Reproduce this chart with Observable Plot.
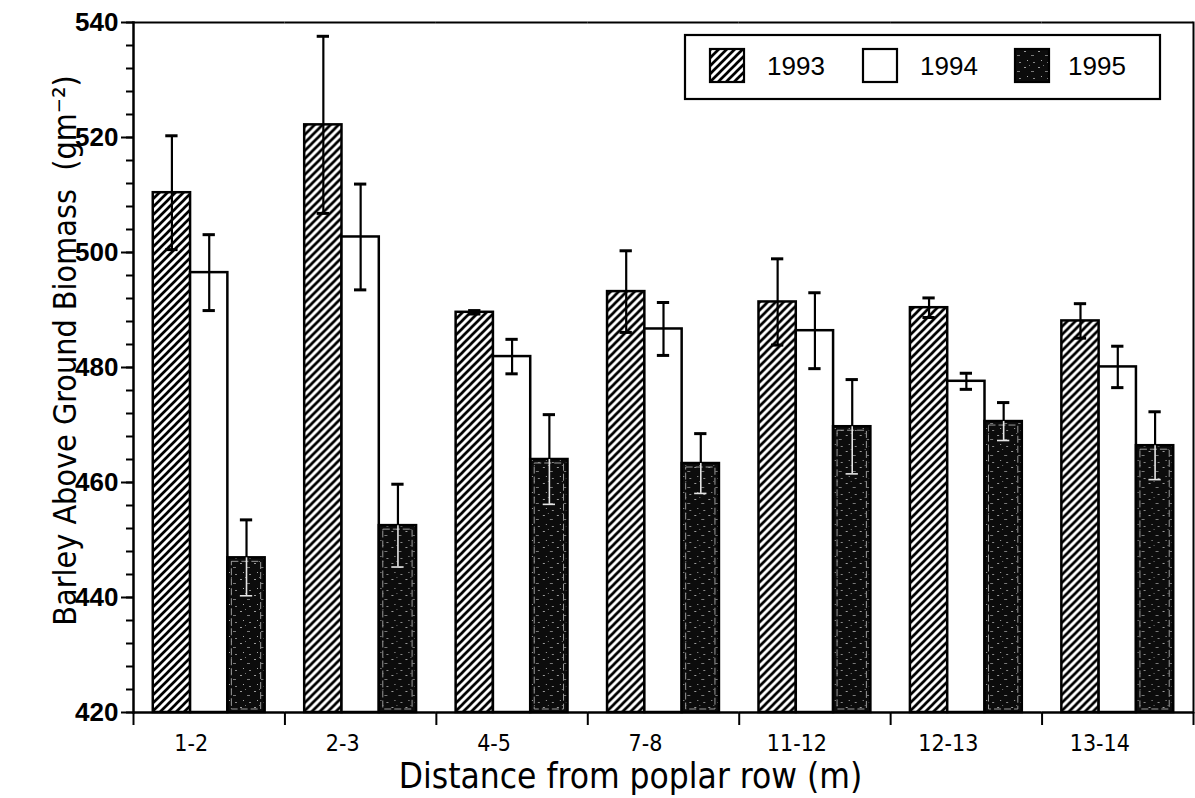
<!DOCTYPE html>
<html>
<head>
<meta charset="utf-8">
<script src="https://cdn.jsdelivr.net/npm/d3@7"></script>
<script src="https://cdn.jsdelivr.net/npm/@observablehq/plot@0.6"></script>
<style>
  html, body { margin: 0; padding: 0; background: #fff; }
  #wrap { position: relative; width: 1195px; height: 798px; }
  #legend { position: absolute; left: 0; top: 0; }
</style>
</head>
<body>
<div id="wrap"></div>
<script>
// ---- data ----
const groups = ["1-2", "2-3", "4-5", "7-8", "11-12", "12-13", "13-14"];
const years = ["1993", "1994", "1995"];
const biomass1993 = [510.4, 522.2, 489.6, 493.2, 491.4, 490.4, 488.1];
const se1993      = [9.9, 15.4, 0.3, 7.1, 7.5, 1.7, 3.0];
const biomass1994 = [496.5, 502.7, 481.9, 486.7, 486.4, 477.6, 480.1];
const se1994      = [6.6, 9.2, 3.0, 4.6, 6.6, 1.4, 3.6];
const biomass1995 = [446.9, 452.5, 464.0, 463.3, 469.7, 470.6, 466.4];
const se1995      = [6.6, 7.2, 7.8, 5.2, 8.2, 3.3, 5.9];
const yTicks = [420, 440, 460, 480, 500, 520, 540];
const yMinorTicks = d3.range(420, 541, 4);
const yTitle = "Barley Above Ground Biomass  (gm\u207B\u00B2)";
const xTitle = "Distance from poplar row (m)";

const series = [
  {year: "1993", values: biomass1993, se: se1993},
  {year: "1994", values: biomass1994, se: se1994},
  {year: "1995", values: biomass1995, se: se1995}
];
const rows = series.flatMap(s => groups.map((g, i) => ({group: g, year: s.year, value: s.values[i], se: s.se[i]})));
const byYear = y => rows.filter(d => d.year === y);

const base = {fx: "group", x: "year"};
const condensed = "DejaVu Sans Condensed, Liberation Sans, sans-serif";

const chart = Plot.plot({
  width: 1195,
  height: 798,
  marginLeft: 133,
  marginRight: 2,
  marginTop: 22,
  marginBottom: 86,
  style: {fontFamily: "Liberation Sans, Arial, sans-serif", background: "white", color: "black"},
  fx: {domain: groups, padding: 0, round: false, axis: null, label: null},
  x: {domain: years, paddingInner: 0, paddingOuter: 0.53, round: false, axis: null},
  y: {domain: [420, 540], axis: null},
  marks: [
    // bars
    Plot.barY(byYear("1993"), {...base, y1: 420, y2: "value", fill: "url(#hatch93)", stroke: "black", strokeWidth: 2.5}),
    Plot.barY(byYear("1994"), {...base, y1: 420, y2: "value", fill: "white", stroke: "black", strokeWidth: 2.5}),
    Plot.barY(byYear("1995"), {...base, y1: 420, y2: "value", fill: "url(#speck95)", stroke: "black", strokeWidth: 2.5}),
    Plot.barY(byYear("1995"), {...base, y1: 420, y2: "value", insetLeft: 4, insetRight: 4, insetTop: 4, insetBottom: 3, fill: "none", stroke: "#9a9a9a", strokeWidth: 1, strokeDasharray: "7 3"}),
    // error bars (upper halves black)
    Plot.ruleX(rows, {...base, y1: "value", y2: d => d.value + d.se, stroke: "black", strokeWidth: 2.2}),
    Plot.ruleX(rows.filter(d => d.year !== "1995"), {...base, y1: d => d.value - d.se, y2: "value", stroke: "black", strokeWidth: 2.2}),
    Plot.ruleX(byYear("1995"), {...base, y1: d => d.value - d.se, y2: "value", stroke: "#e6e6e6", strokeWidth: 1.6}),
    Plot.tickY(rows, {...base, y: d => d.value + d.se, insetLeft: 12.5, insetRight: 12.5, stroke: "black", strokeWidth: 3}),
    Plot.tickY(rows.filter(d => d.year !== "1995"), {...base, y: d => d.value - d.se, insetLeft: 12.5, insetRight: 12.5, stroke: "black", strokeWidth: 3}),
    Plot.tickY(byYear("1995"), {...base, y: d => d.value - d.se, insetLeft: 12.5, insetRight: 12.5, stroke: "#e6e6e6", strokeWidth: 1.6}),
    // frame lines
    Plot.ruleY([540], {stroke: "black", strokeWidth: 2}),
    Plot.ruleY([420], {stroke: "black", strokeWidth: 2.5}),
    Plot.frame({anchor: "left", facetAnchor: "left", stroke: "black", strokeWidth: 2.5}),
    Plot.frame({anchor: "right", facetAnchor: "right", stroke: "black", strokeWidth: 2}),
    // y axis
    Plot.axisY({ticks: yMinorTicks, tickSize: 7, tickFormat: () => "", label: null, strokeWidth: 2}),
    Plot.axisY({ticks: yTicks, tickSize: 12, tickPadding: 3, fontSize: 26, fontWeight: "bold", label: null, strokeWidth: 2}),
    // x axis: boundary ticks + centred labels
    Plot.axisFx({anchor: "bottom", tickSize: 13, tickFormat: () => "", dx: -1060 / 14, label: null, strokeWidth: 2}),
    Plot.axisFx({anchor: "bottom", ticks: ["13-14"], tickSize: 13, tickFormat: () => "", dx: 1060 / 14, label: null, strokeWidth: 2}),
    Plot.axisFx({anchor: "bottom", tickSize: 0, tickPadding: 22, fontSize: 23, fontFamily: condensed, dx: -18, label: null}),
    // titles
    Plot.text([yTitle], {fx: () => groups[0], frameAnchor: "left", textAnchor: "middle", lineAnchor: "middle", rotate: -90, dx: -68, dy: -17, fontSize: 32, fontFamily: condensed, text: d => d}),
    Plot.text([xTitle], {fx: () => groups[3], frameAnchor: "bottom", textAnchor: "middle", lineAnchor: "middle", dy: 64, dx: -33, fontSize: 35, fontFamily: condensed, text: d => d})
  ]
});

d3.select(chart).insert("defs", ":first-child").html(`
  <pattern id="hatch93" patternUnits="userSpaceOnUse" width="8" height="8">
    <rect width="8" height="8" fill="white"/>
    <path d="M-2,2 L2,-2 M0,8 L8,0 M6,10 L10,6" stroke="black" stroke-width="2.7"/>
  </pattern>
  <pattern id="speck95" patternUnits="userSpaceOnUse" width="14" height="16">
    <rect width="14" height="16" fill="#0c0c0c"/>
    <rect x="2" y="3" width="2" height="1" fill="#9a9a9a"/>
    <rect x="9" y="7" width="3" height="1" fill="#7a7a7a"/>
    <rect x="5" y="12" width="1" height="1" fill="#aaaaaa"/>
    <rect x="11" y="14" width="2" height="1" fill="#888888"/>
    <rect x="7" y="1" width="1" height="1" fill="#777777"/>
  </pattern>
`);

const wrap = document.getElementById("wrap");
wrap.appendChild(chart);

// legend overlay (inside the plot area, top right)
const legendItems = [
  {label: "1993", fill: "url(#hatch93)", sx: 710, tx: 767},
  {label: "1994", fill: "white", sx: 863, tx: 920},
  {label: "1995", fill: "url(#speck95)", sx: 1015, tx: 1068}
];
const leg = d3.select(wrap).append("svg")
  .attr("id", "legend").attr("width", 1195).attr("height", 798)
  .style("pointer-events", "none");
leg.append("rect").attr("x", 685).attr("y", 35).attr("width", 475).attr("height", 64)
  .attr("fill", "white").attr("stroke", "black").attr("stroke-width", 2.2);
const li = leg.selectAll("g.item").data(legendItems).join("g").attr("class", "item");
li.append("rect").attr("x", d => d.sx).attr("y", 49).attr("width", 34).attr("height", 33)
  .attr("fill", d => d.fill).attr("stroke", "black").attr("stroke-width", 2.2);
li.append("text").attr("x", d => d.tx).attr("y", 75).text(d => d.label)
  .attr("font-family", "Liberation Sans, Arial, sans-serif").attr("font-size", 26).attr("fill", "black");
</script>
</body>
</html>
